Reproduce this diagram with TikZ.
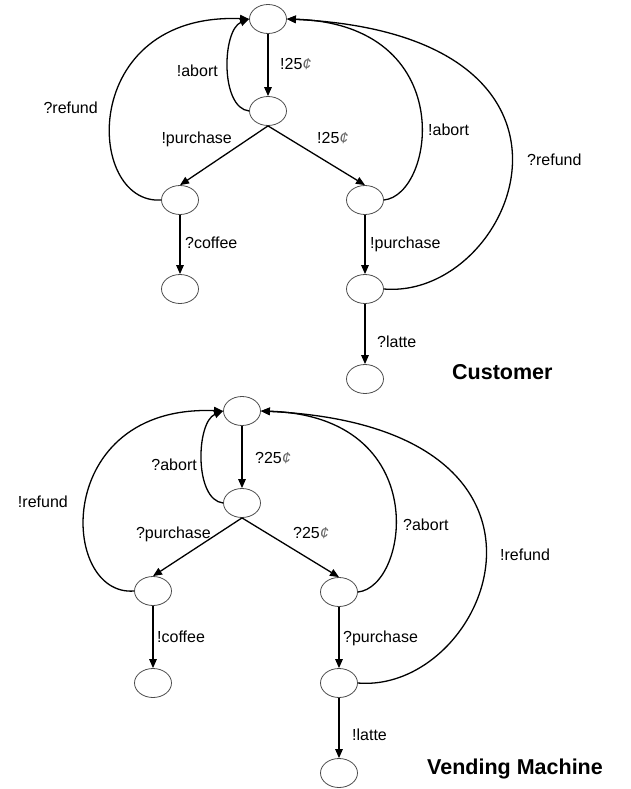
\documentclass[tikz,border=0pt]{standalone}
\usepackage{fontspec}
\setmainfont{Liberation Sans}
\usetikzlibrary{shapes.geometric,arrows.meta}
% thin, light cent sign as printed in the labels
\newcommand{\centsign}{{\itshape\color{black!60}¢}}
\begin{document}
\begin{tikzpicture}[x=1pt,y=-1pt,
  state/.style={ellipse,draw=black!70,line width=0.8pt,minimum width=37pt,minimum height=29pt,inner sep=0pt},
  trans/.style={line width=1.3pt,-{Triangle[length=9pt,width=7.5pt]}},
  lbl/.style={inner sep=0pt,font=\fontsize{16}{16}\selectfont,text height=11.5pt,text depth=0pt},
  heading/.style={inner sep=0pt,font=\fontsize{21.5}{22}\selectfont\bfseries,text height=15.5pt,text depth=0pt}]
\useasboundingbox (0,0) rectangle (631,789);

% ---------------- Customer ----------------
\node[state] (c0) at (268,19) {};
\node[state] (c1) at (268,111) {};
\node[state] (c2) at (180,200) {};
\node[state] (c3) at (365,200) {};
\node[state] (c4) at (180,289) {};
\node[state] (c5) at (365,289) {};
\node[state] (c6) at (365,379) {};

\draw[trans] (c0) -- (c1);
\draw[trans] (c1.south) -- (c2.north);
\draw[trans] (c1.south) -- (c3.north);
\draw[trans] (c2) -- (c4);
\draw[trans] (c3) -- (c5);
\draw[trans] (c5) -- (c6);
\draw[trans] (c1.west) .. controls (220,108) and (222,30) .. (c0.west);
\draw[trans] (c2.west) .. controls (85,205) and (78,12) .. (c0.west);
\draw[trans] (c3.east) .. controls (435,195) and (460,24) .. (c0.east);
\draw[trans] (c5.east) .. controls (515,300) and (625,35) .. (c0.east);

\node[lbl,anchor=east] (cl1) at (218,71) {!abort};
\node[lbl,anchor=west] (cl2) at (280,64) {!25\centsign};
\node[lbl,anchor=east] (cl3) at (232,138) {!purchase};
\node[lbl,anchor=west] (cl4) at (317,138) {!25\centsign};
\node[lbl,anchor=east] (cl5) at (98,108) {?refund};
\node[lbl,anchor=west] (cl6) at (428,130) {!abort};
\node[lbl,anchor=west] (cl7) at (527,160) {?refund};
\node[lbl,anchor=west] (cl8) at (185,243) {?coffee};
\node[lbl,anchor=west] (cl9) at (370,243) {!purchase};
\node[lbl,anchor=west] (cl10) at (377,342) {?latte};
\node[heading,anchor=west] (ctitle) at (452,372) {Customer};

% ---------------- Vending Machine ----------------
\node[state] (v0) at (242,411) {};
\node[state] (v1) at (242,503) {};
\node[state] (v2) at (153,591) {};
\node[state] (v3) at (339,592) {};
\node[state] (v4) at (153,683) {};
\node[state] (v5) at (339,683) {};
\node[state] (v6) at (339,773) {};

\draw[trans] (v0) -- (v1);
\draw[trans] (v1.south) -- (v2.north);
\draw[trans] (v1.south) -- (v3.north);
\draw[trans] (v2) -- (v4);
\draw[trans] (v3) -- (v5);
\draw[trans] (v5) -- (v6);
\draw[trans] (v1.west) .. controls (194,500) and (196,422) .. (v0.west);
\draw[trans] (v2.west) .. controls (59,597) and (52,404) .. (v0.west);
\draw[trans] (v3.east) .. controls (409,587) and (434,416) .. (v0.east);
\draw[trans] (v5.east) .. controls (489,694) and (599,427) .. (v0.east);

\node[lbl,anchor=east] (vl1) at (197,465) {?abort};
\node[lbl,anchor=west] (vl2) at (255,458) {?25\centsign};
\node[lbl,anchor=east] (vl3) at (211,533) {?purchase};
\node[lbl,anchor=west] (vl4) at (293,533) {?25\centsign};
\node[lbl,anchor=east] (vl5) at (68,502) {!refund};
\node[lbl,anchor=west] (vl6) at (403,525) {?abort};
\node[lbl,anchor=west] (vl7) at (500,555) {!refund};
\node[lbl,anchor=west] (vl8) at (157,637) {!coffee};
\node[lbl,anchor=west] (vl9) at (343,637) {?purchase};
\node[lbl,anchor=west] (vl10) at (352,735) {!latte};
\node[heading,anchor=west] (vtitle) at (427,767) {Vending Machine};
\end{tikzpicture}
\end{document}
